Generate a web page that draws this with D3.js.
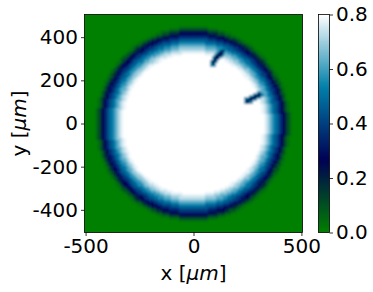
<!DOCTYPE html>
<html><head><meta charset="utf-8">
<script src="https://cdn.jsdelivr.net/npm/d3@7"></script>
<style>body{margin:0;background:#fff}svg{display:block}text{font-family:"DejaVu Sans",sans-serif;fill:#000}</style>
</head><body><svg id="c" width="373" height="292"></svg>
<script>
// grid cell centers (µm)
const gridX = d3.range(-500, 501, 10);
const gridY = d3.range(-500, 501, 10);
// radial profile of the ring (radius µm -> value)
const profileR = [310, 320, 330, 340, 350, 360, 370, 380, 390, 400, 410, 420, 430, 440, 450, 460];
const profileV = [0.88, 0.83, 0.78, 0.74, 0.69, 0.63, 0.57, 0.51, 0.45, 0.39, 0.33, 0.27, 0.18, 0.09, 0.03, 0.0];
const insideValue = 0.9, outsideValue = 0.0;
const centerX = -2, centerY = 0;
// streaks (defects): endpoints in µm
const streakX0 = [90, 250], streakY0 = [283, 107];
const streakX1 = [132, 309], streakY1 = [336, 137];
const streakCore = 0.26, streakHalo = 0.55;
const xTicks = [-500, 0, 500];
const yTicks = [-400, -200, 0, 200, 400];
const cTicks = [0.0, 0.2, 0.4, 0.6, 0.8];
const vmin = 0, vmax = 0.8;

function ocean(t){ t=Math.max(0,Math.min(1,t));
  const r=Math.max(0,Math.min(1,3*t-2)), g=Math.abs((3*t-1)/2), b=t;
  return d3.rgb(r*255,Math.min(1,g)*255,b*255).formatHex(); }
const color = v => ocean((v - vmin)/(vmax - vmin));

function radialValue(r){
  const k = Math.round(r/10)*10;
  if (k < profileR[0]) return insideValue;
  if (k > profileR[profileR.length-1]) return outsideValue;
  return profileV[profileR.indexOf(k)];
}
function segDist(px,py,ax,ay,bx,by){
  const dx=bx-ax, dy=by-ay; let t=((px-ax)*dx+(py-ay)*dy)/(dx*dx+dy*dy);
  t=Math.max(0,Math.min(1,t)); const qx=ax+t*dx-px, qy=ay+t*dy-py; return Math.hypot(qx,qy);
}
const cells=[];
gridY.forEach(y=>gridX.forEach(x=>{
  let v = radialValue(Math.hypot(x-centerX,y-centerY));
  for(let i=0;i<streakX0.length;i++){
    const d=segDist(x,y,streakX0[i],streakY0[i],streakX1[i],streakY1[i]);
    if(d<9) v=Math.min(v,streakCore); else if(d<17) v=Math.min(v,streakHalo);
  }
  cells.push({x,y,v});
}));

const svg=d3.select("#c");
const L=84.5,R=302.5,T=14.5,B=232.5;
const xs=d3.scaleLinear().domain([-505,505]).range([L,R]);
const ys=d3.scaleLinear().domain([-505,505]).range([B,T]);
const cw=xs(10)-xs(0), ch=ys(0)-ys(10);
const defs=svg.append("defs");
defs.append("clipPath").attr("id","pc").append("rect").attr("x",L).attr("y",T).attr("width",R-L).attr("height",B-T);
defs.append("filter").attr("id","sm").attr("filterUnits","userSpaceOnUse")
  .attr("x",L-20).attr("y",T-20).attr("width",R-L+40).attr("height",B-T+40)
  .append("feGaussianBlur").attr("stdDeviation",1.0);
const hm=svg.append("g").attr("clip-path","url(#pc)").append("g").attr("filter","url(#sm)");
hm.append("rect").attr("x",L-10).attr("y",T-10).attr("width",R-L+20).attr("height",B-T+20).attr("fill",color(outsideValue));
hm.append("g").attr("shape-rendering","crispEdges").selectAll("rect").data(cells).join("rect")
  .attr("x",d=>xs(d.x-5)).attr("y",d=>ys(d.y+5))
  .attr("width",cw+0.6).attr("height",ch+0.6).attr("fill",d=>color(d.v));
svg.append("rect").attr("x",L).attr("y",T).attr("width",R-L).attr("height",B-T)
  .attr("fill","none").attr("stroke","#000").attr("stroke-width",0.8);

const fs=20;
const xa=svg.append("g").attr("transform",`translate(0,${B})`)
  .call(d3.axisBottom(xs).tickValues(xTicks).tickSize(3.5).tickPadding(3).tickFormat(d3.format("d")));
const ya=svg.append("g").attr("transform",`translate(${L},0)`)
  .call(d3.axisLeft(ys).tickValues(yTicks).tickSize(3.5).tickPadding(3).tickFormat(d3.format("d")));
[xa,ya].forEach(a=>{a.select(".domain").remove();
  a.selectAll("text").style("font-size",fs+"px").style("font-family","DejaVu Sans");
  a.selectAll("line").attr("stroke","#000").attr("stroke-width",0.8);});
svg.selectAll(".tick text").text(function(){return d3.select(this).text().replace("−","-");});

const xl=svg.append("text").attr("x",(L+R)/2).attr("y",280).attr("text-anchor","middle").style("font-size",fs+"px");
xl.append("tspan").text("x [");
xl.append("tspan").text("μm").style("font-style","italic");
xl.append("tspan").text("]");
const yl=svg.append("text").attr("transform",`translate(26,${(T+B)/2}) rotate(-90)`).attr("text-anchor","middle").style("font-size",fs+"px");
yl.append("tspan").text("y [");
yl.append("tspan").text("μm").style("font-style","italic");
yl.append("tspan").text("]");

// colorbar
const cL=318.5, cR=329.5;
const cs=d3.scaleLinear().domain([vmin,vmax]).range([B,T]);
const grad=defs.append("linearGradient").attr("id","cg").attr("x1",0).attr("y1",1).attr("x2",0).attr("y2",0);
d3.range(0,1.0001,0.02).forEach(t=>grad.append("stop").attr("offset",t).attr("stop-color",ocean(t)));
svg.append("rect").attr("x",cL).attr("y",T).attr("width",cR-cL).attr("height",B-T).attr("fill","url(#cg)")
  .attr("stroke","#000").attr("stroke-width",0.8);
const ca=svg.append("g").attr("transform",`translate(${cR},0)`)
  .call(d3.axisRight(cs).tickValues(cTicks).tickSize(3.5).tickPadding(3).tickFormat(d3.format(".1f")));
ca.select(".domain").remove();
ca.selectAll("text").style("font-size",fs+"px").style("font-family","DejaVu Sans");
ca.selectAll("line").attr("stroke","#000").attr("stroke-width",0.8);
</script></body></html>
